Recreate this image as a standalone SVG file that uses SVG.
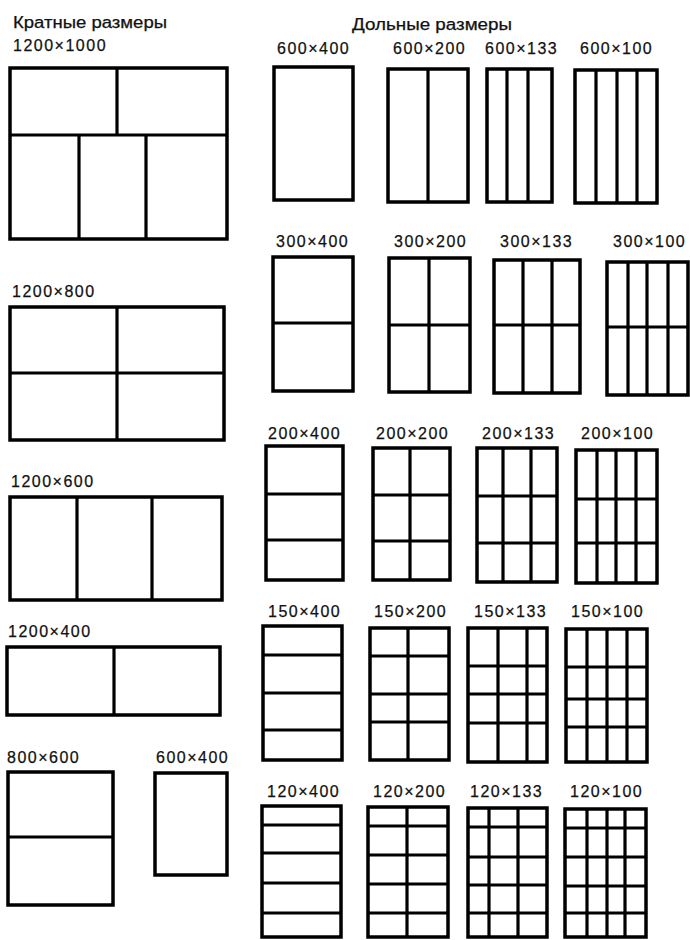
<svg xmlns="http://www.w3.org/2000/svg" width="690" height="940" viewBox="0 0 690 940">
<style>
.f{fill:none;stroke:#000;stroke-width:3.5;stroke-linejoin:miter;stroke-linecap:square}
.d{fill:none;stroke:#000;stroke-width:3.2;stroke-linecap:butt}
text{font-family:"Liberation Sans",Arial,sans-serif;font-size:16px;fill:#111;letter-spacing:1.5px;stroke:#111;stroke-width:0.25}
.h{letter-spacing:0}
</style>
<rect width="690" height="940" fill="#fff"/>
<g id="headers">
<text class="h" x="13" y="28" textLength="154" lengthAdjust="spacingAndGlyphs">Кратные размеры</text>
<text class="h" x="352" y="30" textLength="160" lengthAdjust="spacingAndGlyphs">Дольные размеры</text>
</g>
<g id="m1200x1000"><text x="13" y="51">1200×1000</text><rect class="f" x="10" y="68" width="217" height="171"/><path class="d" d="M10 135H227M117 68V135M79 135V239M146 135V239"/></g>
<g id="m1200x800"><text x="12" y="297">1200×800</text><rect class="f" x="10" y="307" width="214" height="133"/><path class="d" d="M117 307V440M10 373H224"/></g>
<g id="m1200x600"><text x="11" y="487">1200×600</text><rect class="f" x="10" y="497" width="212" height="103"/><path class="d" d="M77 497V600M152 497V600"/></g>
<g id="m1200x400"><text x="8" y="637">1200×400</text><rect class="f" x="7" y="647" width="213" height="68"/><path class="d" d="M114 647V715"/></g>
<g id="m800x600"><text x="7" y="763">800×600</text><rect class="f" x="8" y="772" width="105" height="133"/><path class="d" d="M8 837H113"/></g>
<g id="m600x400"><text x="156" y="763">600×400</text><rect class="f" x="155" y="773" width="72" height="102"/></g>

<g id="d600x400"><text x="277" y="54">600×400</text><rect class="f" x="274" y="67" width="79" height="133"/></g>
<g id="d600x200"><text x="393" y="54">600×200</text><rect class="f" x="388" y="69" width="80" height="133"/><path class="d" d="M428 69V202"/></g>
<g id="d600x133"><text x="485" y="54">600×133</text><rect class="f" x="487" y="69" width="65" height="133"/><path class="d" d="M507 69V202M528 69V202"/></g>
<g id="d600x100"><text x="580" y="54">600×100</text><rect class="f" x="575" y="70" width="82" height="133"/><path class="d" d="M596 70V203M617 70V203M637 70V203"/></g>

<g id="d300x400"><text x="276" y="247">300×400</text><rect class="f" x="273" y="257" width="80" height="134"/><path class="d" d="M273 323H353"/></g>
<g id="d300x200"><text x="394" y="247">300×200</text><rect class="f" x="389" y="258" width="81" height="134"/><path class="d" d="M429 258V392M389 325H470"/></g>
<g id="d300x133"><text x="500" y="247">300×133</text><rect class="f" x="494" y="260" width="86" height="133"/><path class="d" d="M523 260V393M552 260V393M494 325H580"/></g>
<g id="d300x100"><text x="613" y="247">300×100</text><rect class="f" x="607" y="262" width="81" height="133"/><path class="d" d="M628 262V395M647 262V395M668 262V395M607 327H688"/></g>

<g id="d200x400"><text x="268" y="439">200×400</text><rect class="f" x="266" y="446" width="77" height="134"/><path class="d" d="M266 494H343M266 540H343"/></g>
<g id="d200x200"><text x="376" y="439">200×200</text><rect class="f" x="373" y="448" width="77" height="132"/><path class="d" d="M410 448V580M373 495H450M373 541H450"/></g>
<g id="d200x133"><text x="482" y="439">200×133</text><rect class="f" x="477" y="448" width="80" height="134"/><path class="d" d="M503 448V582M531 448V582M477 496H557M477 543H557"/></g>
<g id="d200x100"><text x="581" y="439">200×100</text><rect class="f" x="576" y="450" width="81" height="133"/><path class="d" d="M597 450V583M616 450V583M636 450V583M576 499H657M576 543H657"/></g>

<g id="d150x400"><text x="268" y="617">150×400</text><rect class="f" x="263" y="626" width="79" height="134"/><path class="d" d="M263 655H342M263 693H342M263 730H342"/></g>
<g id="d150x200"><text x="374" y="617">150×200</text><rect class="f" x="370" y="628" width="79" height="132"/><path class="d" d="M408 628V760M370 656H449M370 694H449M370 722H449"/></g>
<g id="d150x133"><text x="474" y="617">150×133</text><rect class="f" x="468" y="628" width="79" height="134"/><path class="d" d="M498 628V762M527 628V762M468 666H547M468 694H547M468 723H547"/></g>
<g id="d150x100"><text x="571" y="617">150×100</text><rect class="f" x="566" y="629" width="81" height="133"/><path class="d" d="M587 629V762M607 629V762M627 629V762M566 667H647M566 699H647M566 727H647"/></g>

<g id="d120x400"><text x="267" y="797">120×400</text><rect class="f" x="262" y="806" width="79" height="131"/><path class="d" d="M262 825H341M262 853H341M262 883H341M262 913H341"/></g>
<g id="d120x200"><text x="373" y="797">120×200</text><rect class="f" x="368" y="807" width="80" height="130"/><path class="d" d="M407 807V937M368 826H448M368 855H448M368 884H448M368 913H448"/></g>
<g id="d120x133"><text x="470" y="797">120×133</text><rect class="f" x="468" y="808" width="79" height="129"/><path class="d" d="M489 808V937M518 808V937M468 827H547M468 857H547M468 885H547M468 913H547"/></g>
<g id="d120x100"><text x="570" y="797">120×100</text><rect class="f" x="565" y="809" width="81" height="128"/><path class="d" d="M587 809V937M607 809V937M625 809V937M565 828H646M565 857H646M565 886H646M565 913H646"/></g>
</svg>
